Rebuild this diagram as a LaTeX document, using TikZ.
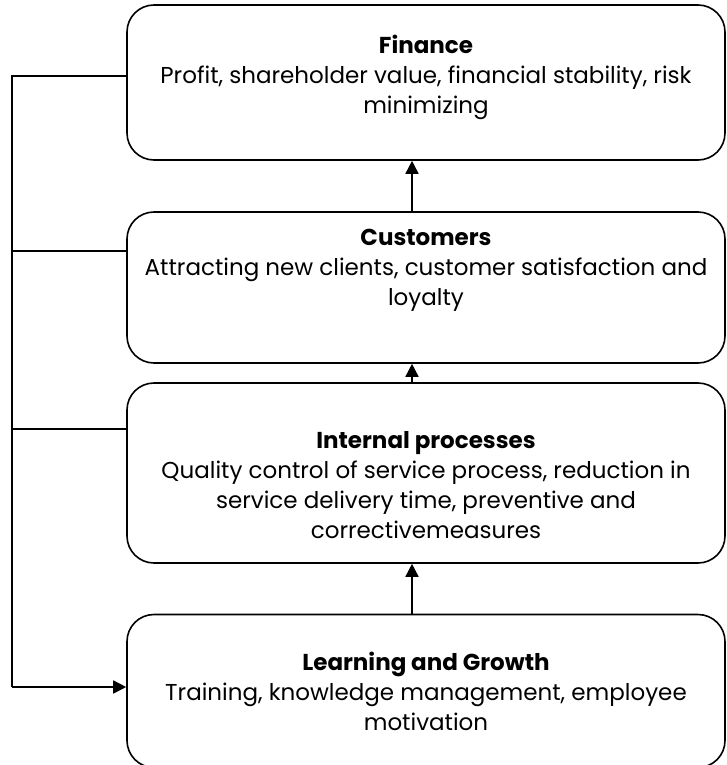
\documentclass[tikz,border=0pt]{standalone}
\usepackage{fontspec}
\setmainfont{Poppins}
\usetikzlibrary{calc,positioning,arrows.meta}

\begin{document}
\begin{tikzpicture}[x=1pt,y=-1pt,
    perspective/.style={draw,line width=1.6pt,rounded corners=27pt,
      minimum width=598pt,align=center,font=\fontsize{23}{30}\selectfont},
    link/.style={line width=1.6pt},
    uparrow/.style={link,-{Triangle[length=13pt,width=13pt]}}]

  \useasboundingbox (0,0) rectangle (727,765);

  \node [perspective,minimum height=155pt] at(426,82.5) (finance)
    {\textbf{Finance}\\Profit, shareholder value, financial stability, risk\\minimizing\\[-14pt]};
  \node [perspective,minimum height=151pt] at(426,287.5) (customers)
    {\textbf{Customers}\\Attracting new clients, customer satisfaction and\\loyalty\\[10pt]};
  \node [perspective,minimum height=180pt] at(426,473) (processes)
    {\textbf{Internal processes}\\Quality control of service process, reduction in\\service delivery time, preventive and\\correctivemeasures\\[-54pt]};
  \node [perspective,minimum height=153pt] at(426,691) (learning)
    {\textbf{Learning and Growth}\\Training, knowledge management, employee\\motivation};

  % vertical arrows between perspectives
  \coordinate (spine) at (412,0);
  \draw [uparrow] (learning.north -| spine) -- (processes.south -| spine);
  \draw [uparrow] (processes.north -| spine) -- (customers.south -| spine);
  \draw [uparrow] (customers.north -| spine) -- (finance.south -| spine);

  % feedback line on the left
  \coordinate (trunk_top) at (12,76);
  \coordinate (trunk_cust) at (12,251);
  \coordinate (trunk_proc) at (12,429);
  \coordinate (trunk_bot) at (12,687);

  \draw [link] (finance.west |- trunk_top) -- (trunk_top) -- (trunk_bot);
  \draw [link] (trunk_cust) -- (customers.west |- trunk_cust);
  \draw [link] (trunk_proc) -- (processes.west |- trunk_proc);
  \draw [uparrow] (trunk_bot) -- (learning.west |- trunk_bot);
\end{tikzpicture}
\end{document}
